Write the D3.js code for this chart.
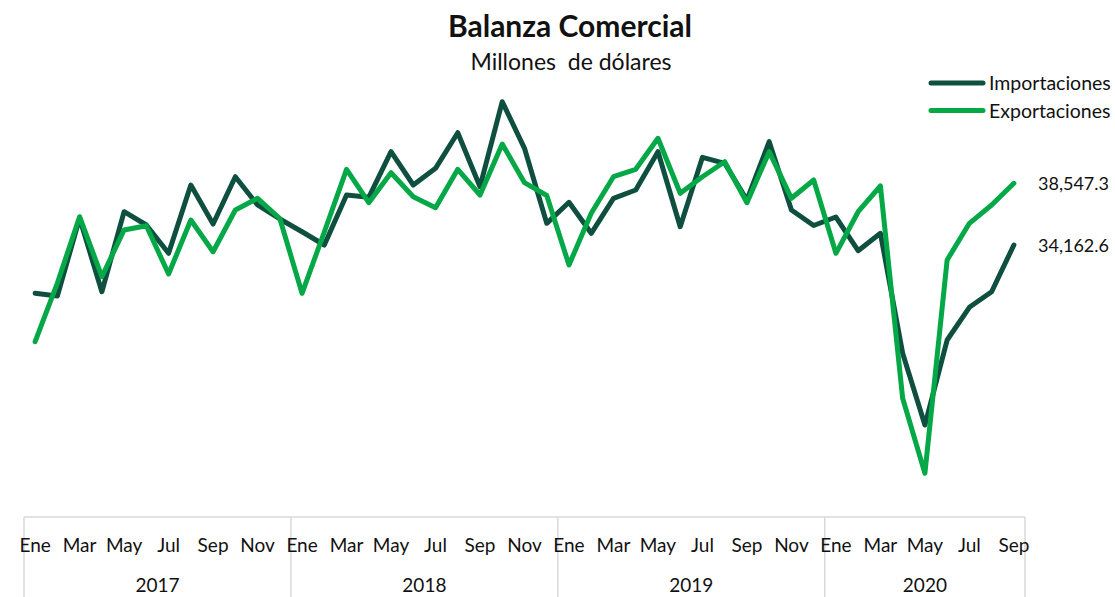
<!DOCTYPE html>
<html><head><meta charset="utf-8">
<script src="https://cdn.jsdelivr.net/npm/d3@7/dist/d3.min.js"></script>
<style>body{margin:0;background:#fff}svg{display:block}text{font-family:Lato,"Open Sans",sans-serif;fill:#111;white-space:pre}</style>
</head><body><svg id="c" width="1115" height="597"></svg>
<script>
const monthNames = ["Ene","Feb","Mar","Abr","May","Jun","Jul","Ago","Sep","Oct","Nov","Dic"];
const years = ["2017","2018","2019","2020"];
const monthsPerYear = [12,12,12,9];
const importaciones = [30729,30537,36060,30843,36529,35583,33572,38426,35654,39016,37005,36010,
  35107,34162,37715,37552,40793,38426,39613,42143,38305,44346,41034,35704,
  37197,34994,37481,38071,40793,35463,40395,39969,37360,41504,36650,35548,
  36152,33757,34994,26465,21369,27410,29734,30843,34162.6];
const exportaciones = [27289,31461,36173,31909,35228,35534,32101,35939,33686,36650,37481,36045,
  30729,35086,39542,37168,39301,37595,36813,39542,37715,41340,38590,37680,
  32741,36415,39016,39542,41745,37836,39016,40082,37168,40793,37481,38782,
  33572,36529,38355,23267,17937,33096,35704,37005,38547.3];
const seriesNames = ["Importaciones","Exportaciones"];
const colors = ["#0f4f3f","#04a846"];

const cats = [];
years.forEach((y,yi)=>{for(let m=0;m<monthsPerYear[yi];m++) cats.push({key:y+"-"+m, year:y, m});});

const svg = d3.select("#c");
const x = d3.scaleBand().domain(cats.map(d=>d.key)).range([24,1025]).padding(0);
const y = d3.scaleLinear().domain([17000,45000]).range([486.5,92.5]);
const cx = k => x(k)+x.bandwidth()/2;

// title
svg.append("text").attr("x",570).attr("y",37).attr("text-anchor","middle")
  .style("font-size","30px").style("font-weight","bold").text("Balanza Comercial");
svg.append("text").attr("x",571).attr("y",70).attr("text-anchor","middle")
  .style("font-size","23px").text("Millones  de dólares");

// axis
const axY = 517;
svg.append("line").attr("x1",24).attr("x2",1025).attr("y1",axY).attr("y2",axY)
  .attr("stroke","#d9d9d9").attr("stroke-width",1.5);
let idx=0;
const bounds=[];
years.forEach((yr,yi)=>{
  const first=cats[idx], last=cats[idx+monthsPerYear[yi]-1];
  bounds.push(x(first.key));
  const mid=(x(first.key)+x(last.key)+x.bandwidth())/2;
  svg.append("text").attr("x",mid).attr("y",592).attr("text-anchor","middle")
    .style("font-size","19px").text(yr);
  idx+=monthsPerYear[yi];
});
bounds.push(x(cats[cats.length-1].key)+x.bandwidth());
bounds.forEach(b=>svg.append("line").attr("x1",b).attr("x2",b).attr("y1",axY).attr("y2",597)
  .attr("stroke","#d9d9d9").attr("stroke-width",1.5));
cats.forEach(c=>{ if(c.m%2===0) svg.append("text").attr("x",cx(c.key)).attr("y",552)
  .attr("text-anchor","middle").style("font-size","19px").text(monthNames[c.m]); });

// lines
const line = d3.line().x((d,i)=>cx(cats[i].key)).y(d=>y(d));
[importaciones,exportaciones].forEach((s,si)=>{
  svg.append("path").datum(s).attr("d",line).attr("fill","none")
    .attr("stroke",colors[si]).attr("stroke-width",5).attr("stroke-linejoin","round").attr("stroke-linecap","round");
});

// end labels
const fmt = d3.format(",.1f");
[importaciones,exportaciones].forEach((s,si)=>{
  const v=s[s.length-1];
  svg.append("text").attr("x",1038).attr("y",y(v)+7).style("font-size","18px").text(fmt(v));
});

// legend
seriesNames.forEach((n,i)=>{
  const ly = 83 + i*27.5;
  svg.append("line").attr("x1",931).attr("x2",983).attr("y1",ly).attr("y2",ly)
    .attr("stroke",colors[i]).attr("stroke-width",5).attr("stroke-linecap","round");
  svg.append("text").attr("x",989).attr("y",ly+7).style("font-size","19.5px").text(n);
});
</script></body></html>
